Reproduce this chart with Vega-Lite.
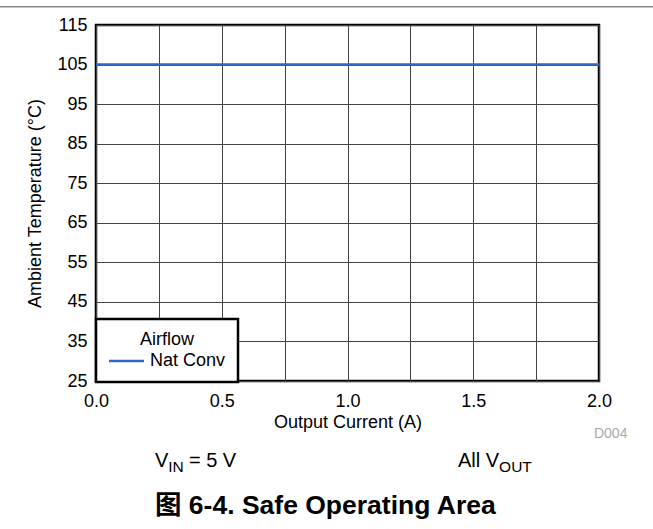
{
  "$schema": "https://vega.github.io/schema/vega-lite/v6.json",
  "width": 503,
  "height": 356,
  "autosize": "none",
  "padding": {"left": 96, "top": 25, "right": 54, "bottom": 148},
  "config": {
    "font": "Liberation Sans",
    "view": {"stroke": "#000000", "strokeWidth": 2.5},
    "axis": {
      "labelFont": "Liberation Sans",
      "titleFont": "Liberation Sans",
      "labelFontSize": 18,
      "titleFontSize": 18,
      "titleFontWeight": "normal",
      "labelColor": "#000000",
      "titleColor": "#000000",
      "ticks": false,
      "domain": false,
      "grid": true,
      "gridColor": "#444444",
      "gridWidth": 1,
      "gridOpacity": 1
    }
  },
  "encoding": {
    "x": {
      "field": "current", "type": "quantitative",
      "scale": {"domain": [0, 2], "nice": false, "zero": false},
      "axis": {
        "title": "Output Current (A)",
        "values": [0, 0.25, 0.5, 0.75, 1, 1.25, 1.5, 1.75, 2],
        "labelExpr": "datum.value % 0.5 == 0 ? format(datum.value, '.1f') : ''",
        "labelPadding": 11,
        "titlePadding": 3,
        "labelFlush": false,
        "labelOverlap": false
      }
    },
    "y": {
      "field": "temp", "type": "quantitative",
      "scale": {"domain": [25, 115], "nice": false, "zero": false},
      "axis": {
        "title": "Ambient Temperature (°C)",
        "values": [25, 35, 45, 55, 65, 75, 85, 95, 105, 115],
        "labelPadding": 9,
        "titlePadding": 12,
        "labelOverlap": false,
        "labelFlush": false
      }
    }
  },
  "layer": [
    {
      "data": {"values": [
        {"current": 0.0, "temp": 105, "airflow": "Nat Conv"},
        {"current": 0.5, "temp": 105, "airflow": "Nat Conv"},
        {"current": 1.0, "temp": 105, "airflow": "Nat Conv"},
        {"current": 1.5, "temp": 105, "airflow": "Nat Conv"},
        {"current": 2.0, "temp": 105, "airflow": "Nat Conv"}
      ]},
      "mark": {"type": "line", "strokeWidth": 2.5},
      "encoding": {
        "color": {
          "field": "airflow", "type": "nominal",
          "scale": {"range": ["#3366cc"]},
          "legend": {
            "title": "Airflow",
            "orient": "none",
            "legendX": 0,
            "legendY": 294,
            "titleAnchor": "middle",
            "titleFont": "Liberation Sans",
            "titleFontSize": 18,
            "titleFontWeight": "normal",
            "titleColor": "#000000",
            "titlePadding": 3,
            "labelFont": "Liberation Sans",
            "labelFontSize": 18,
            "labelColor": "#000000",
            "labelOffset": 24,
            "symbolType": "M-1.6,0H5.4",
            "symbolSize": 100,
            "symbolStrokeWidth": 2.5,
            "padding": 12,
            "strokeColor": "#000000",
            "fillColor": "#ffffff",
            "encode": {"legend": {"update": {"strokeWidth": {"value": 2.5}}}}
          }
        }
      }
    },
    {
      "data": {"values": [{"current": -0.382, "current_end": 2.215, "temp": 119.6}]},
      "mark": {"type": "rule", "color": "#888888", "strokeWidth": 1.5, "clip": false},
      "encoding": {
        "x2": {"field": "current_end"}
      }
    },
    {
      "data": {"values": [
        {"label": "V", "current": 0.2346, "temp": 3.3},
        {"label": "= 5 V", "current": 0.3694, "temp": 3.3},
        {"label": "All V", "current": 1.4394, "temp": 3.3}
      ]},
      "mark": {"type": "text", "align": "left", "baseline": "alphabetic", "fontSize": 20, "font": "Liberation Sans", "color": "#000000", "clip": false},
      "encoding": {
        "text": {"field": "label"}
      }
    },
    {
      "data": {"values": [
        {"label": "IN", "current": 0.2875, "temp": 1.9},
        {"label": "OUT", "current": 1.6028, "temp": 1.9}
      ]},
      "mark": {"type": "text", "align": "left", "baseline": "alphabetic", "fontSize": 15.5, "font": "Liberation Sans", "color": "#000000", "clip": false},
      "encoding": {
        "text": {"field": "label"}
      }
    },
    {
      "data": {"values": [{"label": "D004", "current": 1.98, "temp": 10.6}]},
      "mark": {"type": "text", "align": "left", "baseline": "alphabetic", "fontSize": 14, "font": "Liberation Sans", "color": "#aaaaaa", "clip": false},
      "encoding": {
        "text": {"field": "label"}
      }
    },
    {
      "data": {"values": [{"label": "图 6-4. Safe Operating Area", "current": 0.2346, "temp": -8.6}]},
      "mark": {"type": "text", "align": "left", "baseline": "alphabetic", "fontSize": 26.5, "fontWeight": "bold", "font": "Liberation Sans, Noto Sans CJK SC", "color": "#000000", "clip": false},
      "encoding": {
        "text": {"field": "label"}
      }
    }
  ]
}
